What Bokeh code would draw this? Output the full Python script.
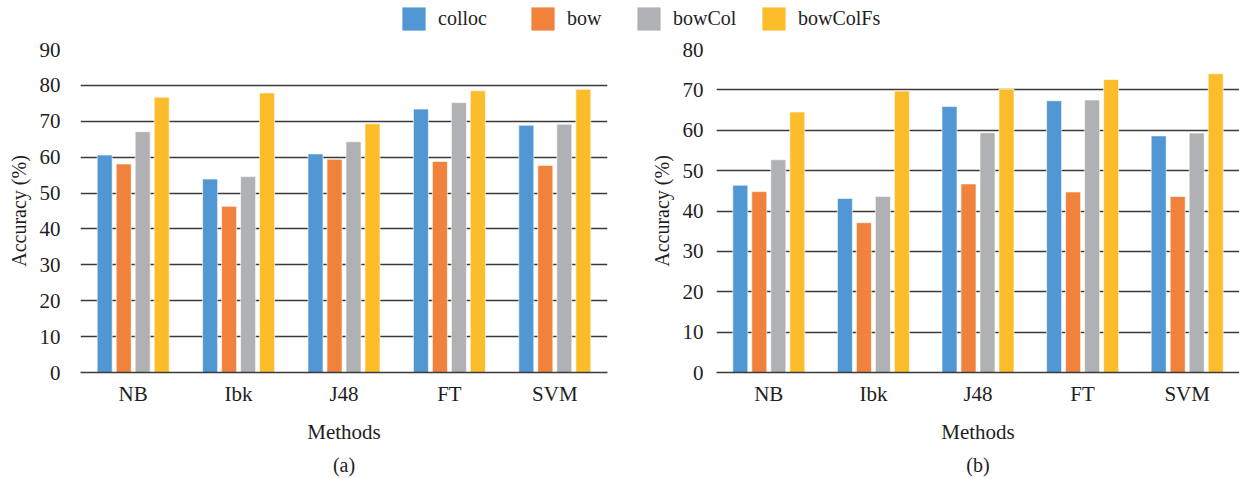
from bokeh.plotting import figure
from bokeh.models import (ColumnDataSource, FactorRange, Range1d, Legend, LegendItem,
                          Title, FixedTicker)
from bokeh.transform import dodge
from bokeh.layouts import column, row
from bokeh.embed import file_html
from bokeh.resources import INLINE

# ---------------- data ----------------
methods = ["NB", "Ibk", "J48", "FT", "SVM"]
series = ["colloc", "bow", "bowCol", "bowColFs"]

a_colloc = [60.6, 53.9, 60.9, 73.4, 68.9]
a_bow = [58.1, 46.3, 59.4, 58.8, 57.7]
a_bowcol = [67.1, 54.6, 64.3, 75.2, 69.2]
a_bowcolfs = [76.7, 77.9, 69.3, 78.5, 78.9]

b_colloc = [46.4, 43.1, 65.9, 67.3, 58.6]
b_bow = [44.8, 37.1, 46.7, 44.7, 43.6]
b_bowcol = [52.7, 43.6, 59.4, 67.5, 59.3]
b_bowcolfs = [64.5, 69.7, 70.2, 72.6, 74.0]

y_ticks_a = [0, 10, 20, 30, 40, 50, 60, 70, 80, 90]
y_ticks_b = [0, 10, 20, 30, 40, 50, 60, 70, 80]

x_title = "Methods"
y_title = "Accuracy (%)"

# ---------------- style ----------------
FONT = "Liberation Serif"
TXT = "#1e1e1e"
GRID = "#3a3a3a"
COLORS = ["#5197d3", "#f0823c", "#b0b1b4", "#fdbd2a"]


def make_panel(vals, ymax, ticks, tag, frame_w, left, right, tick_standoff, lab_standoff):
    src = ColumnDataSource(dict(m=methods, **{s: v for s, v in zip(series, vals)}))
    p = figure(x_range=FactorRange(*methods), y_range=Range1d(0, ymax),
               frame_width=frame_w, frame_height=323,
               min_border_left=left, min_border_right=right, min_border_top=11,
               min_border_bottom=0,
               toolbar_location=None, output_backend="svg")
    px_per_cat = frame_w / len(methods)
    bw = 15 / px_per_cat
    step = 19 / px_per_cat
    offs = [-1.5 * step, -0.5 * step, 0.5 * step, 1.5 * step]
    for s, c, o in zip(series, COLORS, offs):
        p.vbar(x=dodge("m", o, range=p.x_range), top=s, width=bw, source=src,
               fill_color=c, line_color="white", line_width=1, line_alpha=0.6)
    p.outline_line_color = None
    p.xgrid.visible = False
    p.ygrid.ticker = FixedTicker(ticks=ticks)
    p.ygrid.grid_line_color = GRID
    p.ygrid.grid_line_width = 1.5
    p.yaxis.ticker = FixedTicker(ticks=ticks)
    p.yaxis.axis_line_color = None
    p.yaxis.major_tick_line_color = None
    p.yaxis.minor_tick_line_color = None
    p.yaxis.major_tick_out = 0
    p.yaxis.major_tick_in = 0
    p.yaxis.major_label_standoff = tick_standoff
    p.yaxis.axis_label = y_title
    p.yaxis.axis_label_standoff = lab_standoff
    p.xaxis.axis_line_color = GRID
    p.xaxis.axis_line_width = 1.5
    p.xaxis.major_tick_line_color = None
    p.xaxis.minor_tick_line_color = None
    p.xaxis.major_tick_out = 0
    p.xaxis.major_tick_in = 0
    p.xaxis.major_label_standoff = 9
    p.xaxis.axis_label = x_title
    p.xaxis.axis_label_standoff = 11
    for ax in (p.xaxis[0], p.yaxis[0]):
        ax.major_label_text_font = FONT
        ax.major_label_text_font_size = "21px"
        ax.major_label_text_color = TXT
        ax.axis_label_text_font = FONT
        ax.axis_label_text_font_size = "20px"
        ax.axis_label_text_font_style = "normal"
        ax.axis_label_text_color = TXT
    p.xaxis.axis_label_text_font_size = "21px"
    t = Title(text=tag, align="center", text_font=FONT, text_font_size="20px",
              text_font_style="normal", text_color=TXT, standoff=10)
    p.add_layout(t, "below")
    return p


pa = make_panel([a_colloc, a_bow, a_bowcol, a_bowcolfs], 90, y_ticks_a, "(a)",
                527, 80, 13, 20, 7)
pb = make_panel([b_colloc, b_bow, b_bowcol, b_bowcolfs], 80, y_ticks_b, "(b)",
                523, 96, 0, 13, 7)

# ---------------- legend strip ----------------
leg = figure(width=1239, height=38, x_range=Range1d(0, 1), y_range=Range1d(0, 1),
             x_axis_type=None, y_axis_type=None, min_border=0,
             toolbar_location=None, output_backend="svg")
leg.outline_line_color = None
leg.grid.visible = False
leg_x = [399, 528, 634, 759]
for s, c, lx in zip(series, COLORS, leg_x):
    # invisible proxy glyph (zero size), used only to draw the legend swatch
    r = leg.vbar(x=[0.5], top=[0], bottom=[0], width=0, fill_color=c, line_color=None)
    lg = Legend(items=[LegendItem(label=s, renderers=[r])], location=(lx, 5),
                orientation="horizontal", glyph_width=29, glyph_height=29,
                label_standoff=10, label_text_font=FONT, label_text_font_size="20px",
                label_text_color=TXT, padding=0, margin=0, spacing=0,
                border_line_color=None, background_fill_alpha=0)
    leg.add_layout(lg)

layout = column(leg, row(pa, pb))
open("out.html", "w").write(file_html(layout, INLINE))
